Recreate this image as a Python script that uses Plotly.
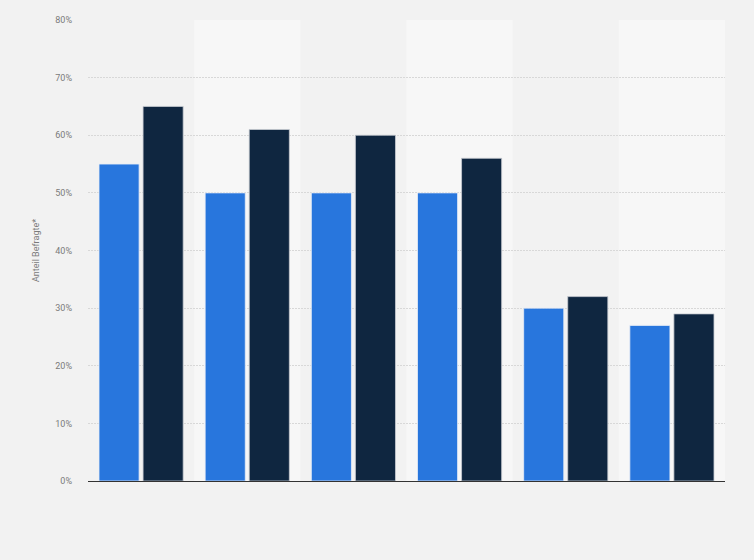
import plotly.graph_objects as go

categories = ["1", "2", "3", "4", "5", "6"]
series_a_name = "Reihe 1"
series_b_name = "Reihe 2"
series_a = [55, 50, 50, 50, 30, 27]
series_b = [65, 61, 60, 56, 32, 29]
y_ticks = [0, 10, 20, 30, 40, 50, 60, 70, 80]
y_tick_labels = [f"{v}%" for v in y_ticks]

fig = go.Figure()
fig.add_bar(x=categories, y=series_a, name=series_a_name,
            marker=dict(color="#2876dd", line=dict(color="#e8eef6", width=0.8)))
fig.add_bar(x=categories, y=series_b, name=series_b_name,
            marker=dict(color="#0f2640", line=dict(color="#c8ccd2", width=0.8)))

shapes = []
for i in range(len(categories)):
    if i % 2 == 1:
        shapes.append(dict(type="rect", xref="x", yref="y",
                           x0=i - 0.5, x1=i + 0.5, y0=0, y1=max(y_ticks),
                           fillcolor="#f7f7f7", line=dict(width=0), layer="below"))

fig.update_layout(
    width=754, height=560,
    paper_bgcolor="#f2f2f2", plot_bgcolor="#f2f2f2",
    margin=dict(l=88, r=29, t=20, b=79),
    barmode="group", bargap=0.17, bargroupgap=0.09,
    showlegend=False,
    shapes=shapes,
    font=dict(family="Roboto, Arial, sans-serif", color="#7a7a7a", size=9),
)
fig.update_xaxes(showticklabels=False, showgrid=False, zeroline=False,
                 showline=True, linecolor="#333333", linewidth=1.2,
                 range=[-0.5, len(categories) - 0.5])
fig.update_yaxes(range=[0, 80], tickvals=y_ticks, ticktext=y_tick_labels,
                 showgrid=True, gridcolor="#d8d8d8", griddash="2px,1px", gridwidth=1,
                 zeroline=False, ticks="", ticklabelstandoff=15,
                 tickfont=dict(size=9, color="#7a7a7a"),
                 title=dict(text="Anteil Befragte*", font=dict(size=9, color="#7a7a7a"),
                            standoff=14))

fig.write_html("out.html",
               config={"displayModeBar": False},
               post_script="document.body.style.margin='0';document.body.style.padding='0';")
